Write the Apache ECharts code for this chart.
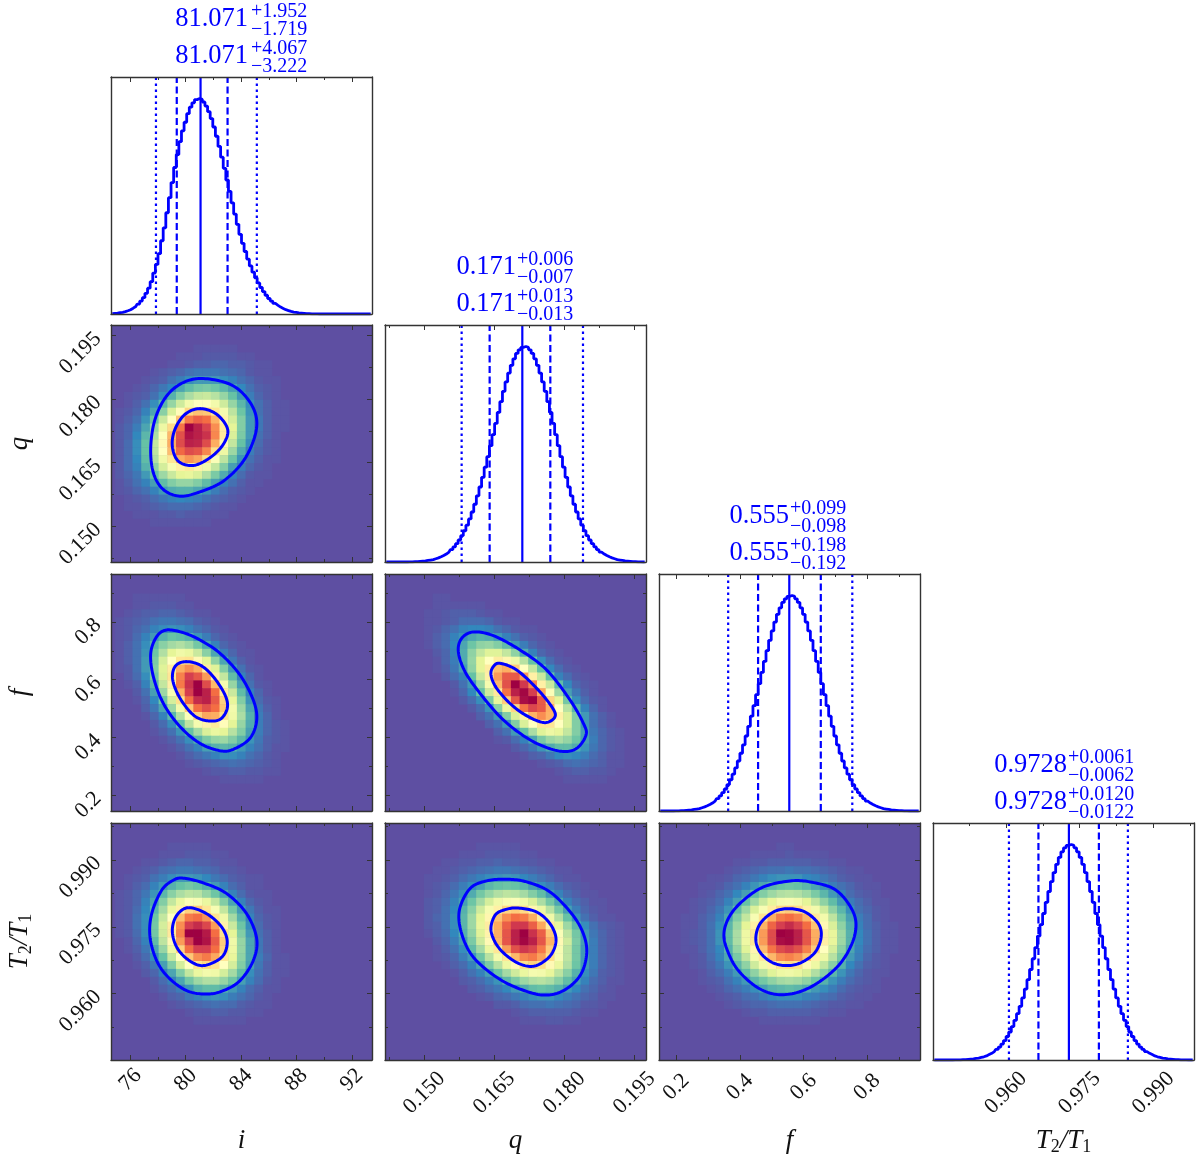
<!DOCTYPE html>
<html>
<head>
<meta charset="utf-8">
<style>
	html, body { margin: 0; padding: 0; background: #fff; }
	#main { width: 1200px; height: 1160px; }
</style>
<script src="https://cdn.jsdelivr.net/npm/echarts@6/dist/echarts.min.js"></script>
</head>
<body>
<div id="main"></div>
<script>
// axis ranges and ticks
let rangeI = [74.6, 93.46];
let rangeQ = [0.14158, 0.1975];
let rangeF = [0.1457, 0.9657];
let rangeT = [0.94515, 0.99825];
let ticksI = [76, 80, 84, 88, 92];
let minorI = [78, 82, 86, 90];
let ticksQ = [0.15, 0.165, 0.18, 0.195];
let minorQ = [0.1425, 0.1575, 0.1725, 0.1875];
let ticksF = [0.2, 0.4, 0.6, 0.8];
let minorF = [0.3, 0.5, 0.7, 0.9];
let ticksT = [0.96, 0.975, 0.99];
let minorT = [0.9525, 0.9675, 0.9825, 0.9975];

// median, -1s, +1s, -2s, +2s
let medianI = [81.071, 1.719, 1.952, 3.222, 4.067];
let medianQ = [0.171, 0.007, 0.006, 0.013, 0.013];
let medianF = [0.555, 0.098, 0.099, 0.192, 0.198];
let medianT = [0.9728, 0.0062, 0.0061, 0.0122, 0.012];

// histograms, 100 bins each, % of the peak
let histI = [0.2, 0.3, 0.4, 0.6, 0.8, 1.1, 1.5, 2, 2.7, 3.5, 4.6, 6, 7.6, 9.6, 12, 15, 19, 23, 28, 34, 40, 47, 54, 61, 68, 74, 80, 85, 89, 93, 96, 98, 99.5, 100, 99.6, 98.4, 96.5, 93.9, 90.7, 86.8, 82.5, 77.8, 72.8, 67.6, 62.2, 56.9, 51.6, 46.4, 41.6, 37, 32.8, 29, 25.5, 22.3, 19.4, 16.8, 14.4, 12.3, 10.4, 8.7, 7.2, 6, 4.9, 4, 3.2, 2.6, 2, 1.6, 1.2, 0.9, 0.7, 0.5, 0.4, 0.3, 0.2, 0.15, 0.1, 0.08, 0.05, 0, 0, 0, 0, 0, 0, 0, 0, 0, 0, 0, 0, 0, 0, 0, 0, 0, 0, 0, 0, 0];
let histQ = [0, 0, 0, 0, 0, 0, 0, 0, 0, 0.1, 0.1, 0.15, 0.2, 0.3, 0.4, 0.5, 0.7, 0.9, 1.1, 1.5, 1.9, 2.4, 3, 3.7, 4.6, 5.7, 7, 8.5, 10.2, 12.2, 14.5, 17.1, 20, 23.2, 26.8, 30.7, 34.8, 39.3, 44, 48.9, 54, 59.1, 64.3, 69.4, 74.4, 79.2, 83.6, 87.7, 91.3, 94.3, 96.8, 98.5, 99.6, 100, 99.6, 98.5, 96.8, 94.3, 91.3, 87.7, 83.6, 79.2, 74.4, 69.4, 64.3, 59.1, 54, 48.9, 44, 39.3, 34.8, 30.7, 26.8, 23.2, 20, 17.1, 14.5, 12.2, 10.2, 8.5, 7, 5.7, 4.6, 3.7, 3, 2.4, 1.9, 1.5, 1.1, 0.9, 0.7, 0.5, 0.4, 0.3, 0.2, 0.15, 0.1, 0.07, 0, 0];
let histF = [0, 0, 0, 0, 0, 0, 0.1, 0.1, 0.15, 0.2, 0.3, 0.4, 0.5, 0.7, 0.9, 1.1, 1.5, 1.9, 2.4, 3, 3.7, 4.6, 5.7, 7, 8.5, 10.2, 12.2, 14.5, 17.1, 20, 23.2, 26.8, 30.7, 34.8, 39.3, 44, 48.9, 54, 59.1, 64.3, 69.4, 74.4, 79.2, 83.6, 87.7, 91.3, 94.3, 96.8, 98.5, 99.6, 100, 99.6, 98.5, 96.8, 94.3, 91.3, 87.7, 83.6, 79.2, 74.4, 69.4, 64.3, 59.1, 54, 48.9, 44, 39.3, 34.8, 30.7, 26.8, 23.2, 20, 17.1, 14.5, 12.2, 10.2, 8.5, 7, 5.7, 4.6, 3.7, 3, 2.4, 1.9, 1.5, 1.1, 0.9, 0.7, 0.5, 0.4, 0.3, 0.2, 0.15, 0.1, 0.07, 0, 0, 0, 0, 0];
let histT = [0, 0, 0, 0, 0, 0, 0, 0, 0.05, 0.08, 0.1, 0.15, 0.2, 0.3, 0.4, 0.5, 0.7, 0.9, 1.2, 1.5, 1.9, 2.5, 3.1, 3.9, 4.9, 6, 7.4, 9, 10.9, 13, 15.5, 18.4, 21.5, 24.9, 28.8, 32.9, 37.3, 42, 47, 52.2, 57.5, 62.8, 68, 73.2, 78.2, 82.8, 87, 90.8, 94, 96.6, 98.5, 99.6, 100, 99.6, 98.5, 96.6, 94, 90.8, 87, 82.8, 78.2, 73.2, 68, 62.8, 57.5, 52.2, 47, 42, 37.3, 32.9, 28.8, 24.9, 21.5, 18.4, 15.5, 13, 10.9, 9, 7.4, 6, 4.9, 3.9, 3.1, 2.5, 1.9, 1.5, 1.2, 0.9, 0.7, 0.5, 0.4, 0.3, 0.2, 0.15, 0.1, 0.08, 0.05, 0, 0, 0];

// 2d density, % of the peak. First row is bin row 3, each row is [first column, values...]
let heatIQ = [
	[10, 1, 1, 1, 1, 1],
	[8, 1, 1, 1, 2, 2, 2, 2, 1, 1],
	[7, 1, 1, 2, 3, 3, 4, 4, 3, 3, 2, 1, 1],
	[5, 1, 2, 3, 4, 6, 7, 7, 7, 6, 5, 4, 2, 1, 1],
	[4, 1, 2, 3, 6, 8, 11, 13, 13, 13, 11, 9, 6, 4, 2, 1, 1],
	[3, 1, 2, 4, 7, 10, 15, 19, 22, 23, 21, 18, 14, 10, 6, 3, 2, 1],
	[2, 1, 2, 3, 6, 11, 17, 24, 30, 34, 35, 32, 27, 20, 13, 8, 4, 2, 1],
	[2, 1, 3, 6, 11, 18, 27, 36, 45, 50, 50, 45, 36, 27, 18, 11, 6, 3, 1, 1],
	[1, 1, 2, 4, 9, 15, 25, 38, 51, 62, 66, 65, 58, 46, 33, 21, 12, 6, 3, 1, 1],
	[1, 1, 3, 6, 12, 21, 35, 50, 66, 78, 83, 80, 69, 54, 37, 24, 13, 7, 3, 1, 1],
	[1, 2, 4, 8, 15, 27, 43, 61, 79, 100, 95, 89, 75, 57, 40, 24, 13, 7, 3, 1, 1],
	[1, 2, 4, 10, 18, 30, 49, 68, 86, 97, 95, 92, 76, 57, 38, 23, 13, 6, 3, 1],
	[1, 2, 5, 11, 20, 34, 52, 70, 87, 95, 94, 87, 70, 52, 34, 20, 11, 5, 2, 1],
	[1, 2, 5, 11, 20, 33, 50, 67, 81, 87, 85, 76, 60, 43, 28, 16, 8, 4, 2, 1],
	[1, 2, 5, 10, 19, 31, 44, 58, 70, 74, 71, 61, 48, 33, 21, 12, 6, 3, 1, 1],
	[1, 2, 5, 9, 17, 26, 37, 47, 55, 57, 54, 45, 34, 24, 14, 8, 4, 2, 1],
	[1, 2, 4, 7, 13, 20, 28, 35, 40, 41, 38, 31, 23, 16, 9, 5, 2, 1, 1],
	[1, 1, 3, 6, 9, 14, 19, 24, 27, 27, 24, 19, 14, 9, 6, 3, 1, 1],
	[1, 1, 2, 4, 6, 9, 13, 16, 17, 17, 15, 12, 8, 5, 3, 2, 1],
	[2, 1, 2, 3, 5, 7, 9, 10, 9, 8, 6, 4, 3, 2, 1],
	[2, 1, 1, 2, 3, 4, 5, 5, 5, 4, 3, 2, 1, 1],
	[3, 1, 1, 1, 2, 2, 3, 2, 2, 1, 1, 1],
	[5, 1, 1, 1, 1, 1, 1, 1],
];
let heatIF = [
	[3, 1, 1, 1, 1, 1, 1],
	[3, 1, 1, 2, 2, 2, 1, 1],
	[2, 1, 2, 3, 3, 4, 4, 3, 2, 1, 1],
	[1, 1, 2, 3, 4, 6, 7, 7, 6, 5, 3, 2, 1],
	[1, 1, 2, 4, 6, 9, 11, 12, 11, 9, 6, 4, 2, 1],
	[1, 1, 2, 5, 9, 13, 17, 20, 19, 17, 12, 8, 4, 2, 1],
	[1, 1, 3, 6, 11, 18, 25, 29, 31, 28, 22, 15, 9, 4, 2, 1],
	[1, 1, 3, 6, 12, 21, 31, 40, 44, 42, 35, 25, 15, 8, 4, 1, 1],
	[1, 1, 3, 6, 13, 23, 37, 50, 58, 59, 52, 40, 26, 15, 7, 3, 1],
	[1, 1, 2, 6, 13, 24, 39, 56, 70, 75, 70, 56, 39, 24, 13, 6, 2, 1],
	[2, 2, 5, 11, 22, 38, 58, 77, 90, 85, 73, 55, 34, 19, 9, 4, 1],
	[2, 1, 3, 9, 18, 34, 55, 78, 92, 100, 87, 68, 46, 27, 14, 6, 2, 1],
	[3, 2, 6, 14, 28, 47, 70, 90, 100, 95, 80, 57, 35, 19, 9, 4, 1],
	[3, 1, 4, 10, 21, 37, 60, 80, 93, 95, 84, 63, 41, 24, 12, 5, 2, 1],
	[4, 3, 7, 15, 28, 45, 65, 80, 86, 80, 65, 45, 28, 15, 7, 3, 1],
	[4, 1, 4, 9, 18, 31, 48, 63, 71, 70, 60, 44, 30, 17, 8, 4, 1],
	[5, 2, 5, 11, 20, 33, 46, 54, 57, 51, 40, 27, 16, 8, 4, 2, 1],
	[5, 1, 3, 6, 12, 20, 29, 38, 42, 40, 32, 24, 14, 8, 4, 2, 1],
	[6, 1, 3, 6, 11, 17, 23, 27, 28, 24, 18, 12, 7, 3, 2, 1],
	[7, 1, 3, 6, 9, 14, 17, 18, 17, 13, 9, 6, 3, 1, 1],
	[8, 1, 3, 5, 7, 9, 11, 11, 9, 6, 4, 2, 1],
	[9, 1, 2, 3, 4, 5, 6, 5, 4, 3, 2, 1],
	[11, 1, 2, 2, 3, 3, 2, 2, 1, 1],
	[13, 1, 1, 1, 1, 1],
];
let heatQF = [
	[6, 1, 1],
	[6, 1, 1, 1, 1, 1, 1],
	[5, 1, 1, 2, 3, 3, 3, 2, 1, 1],
	[5, 1, 1, 2, 3, 5, 5, 5, 4, 2, 1, 1],
	[5, 1, 2, 4, 6, 9, 10, 10, 9, 6, 4, 2, 1, 1],
	[5, 1, 3, 5, 9, 12, 15, 17, 16, 13, 9, 6, 3, 2, 1],
	[5, 1, 3, 5, 10, 15, 21, 26, 27, 24, 19, 13, 8, 4, 2, 1],
	[6, 2, 4, 9, 16, 26, 34, 39, 39, 34, 26, 16, 9, 4, 2, 1],
	[6, 1, 4, 8, 16, 27, 40, 50, 56, 53, 44, 32, 20, 11, 5, 2, 1],
	[6, 1, 3, 7, 14, 26, 40, 56, 67, 70, 64, 50, 34, 20, 10, 5, 2, 1],
	[7, 2, 5, 9, 20, 35, 55, 73, 84, 84, 73, 55, 35, 20, 9, 5, 2, 1],
	[8, 2, 6, 13, 27, 46, 68, 86, 100, 91, 76, 55, 35, 19, 10, 4, 2, 1],
	[8, 1, 4, 10, 20, 36, 57, 79, 95, 99, 90, 71, 48, 28, 14, 7, 3, 1],
	[9, 2, 5, 11, 23, 41, 64, 85, 98, 100, 84, 62, 40, 22, 11, 5, 2, 1],
	[10, 2, 5, 12, 25, 42, 62, 79, 88, 84, 70, 50, 32, 18, 9, 4, 1],
	[11, 3, 6, 13, 24, 38, 55, 69, 75, 69, 55, 38, 24, 13, 6, 3, 1],
	[12, 3, 6, 13, 24, 38, 50, 58, 58, 50, 38, 24, 13, 6, 3, 1],
	[13, 3, 6, 13, 20, 30, 39, 43, 41, 34, 24, 14, 7, 4, 2, 1],
	[13, 1, 2, 5, 9, 15, 23, 28, 30, 27, 21, 14, 8, 4, 2, 1],
	[15, 2, 4, 7, 12, 16, 19, 19, 16, 12, 7, 4, 2, 1],
	[16, 1, 3, 4, 7, 10, 11, 10, 8, 5, 3, 1, 1],
	[18, 1, 2, 3, 5, 6, 5, 4, 3, 1, 1],
	[20, 1, 2, 3, 3, 2, 2, 1],
	[21, 1, 1, 1, 1, 1],
];
let heatIT = [
	[7, 1, 1, 1, 1, 1],
	[6, 1, 1, 1, 2, 2, 2, 1, 1],
	[4, 1, 1, 2, 3, 4, 4, 3, 3, 2, 1, 1],
	[3, 1, 2, 3, 5, 6, 7, 7, 6, 5, 4, 2, 2, 1],
	[2, 1, 2, 3, 6, 8, 11, 13, 13, 12, 10, 7, 5, 3, 2, 1, 1],
	[2, 1, 3, 5, 9, 13, 17, 20, 22, 20, 17, 13, 9, 5, 3, 1, 1],
	[1, 1, 2, 4, 7, 12, 18, 25, 30, 33, 32, 27, 21, 15, 9, 5, 2, 1, 1],
	[1, 1, 2, 4, 9, 15, 24, 34, 42, 48, 47, 42, 34, 24, 15, 9, 4, 2, 1],
	[1, 1, 2, 5, 10, 18, 29, 42, 55, 63, 65, 58, 47, 34, 22, 13, 7, 3, 1, 1],
	[1, 1, 2, 6, 11, 21, 34, 50, 67, 78, 80, 74, 59, 44, 29, 17, 9, 4, 2, 1],
	[1, 1, 2, 6, 11, 22, 37, 56, 75, 90, 93, 88, 73, 54, 35, 21, 11, 5, 2, 1],
	[1, 1, 2, 5, 11, 22, 36, 57, 77, 100, 100, 96, 80, 60, 40, 24, 13, 6, 3, 1],
	[2, 1, 4, 9, 19, 33, 52, 73, 90, 100, 97, 84, 64, 44, 27, 15, 7, 3, 1],
	[2, 1, 3, 7, 15, 27, 43, 63, 80, 90, 90, 80, 63, 43, 27, 15, 7, 3, 1],
	[3, 2, 5, 11, 20, 34, 50, 65, 75, 78, 71, 58, 41, 26, 15, 8, 4, 1, 1],
	[3, 1, 3, 7, 14, 24, 37, 50, 59, 62, 59, 50, 37, 24, 14, 7, 3, 1, 1],
	[4, 2, 4, 9, 15, 24, 34, 42, 45, 44, 37, 29, 19, 11, 6, 3, 1, 1],
	[5, 2, 5, 9, 15, 22, 28, 31, 31, 27, 21, 14, 9, 5, 2, 1],
	[5, 1, 3, 5, 8, 12, 17, 19, 19, 17, 13, 9, 5, 3, 1, 1],
	[6, 1, 3, 4, 7, 9, 11, 12, 11, 8, 6, 4, 2, 1],
	[7, 1, 2, 3, 4, 5, 6, 5, 5, 3, 2, 1, 1],
	[9, 1, 2, 2, 3, 3, 2, 2, 1, 1],
	[10, 1, 1, 1, 1, 1, 1],
];
let heatQT = [
	[11, 1, 1, 1, 1, 1],
	[9, 1, 1, 1, 2, 2, 2, 2, 1, 1],
	[7, 1, 1, 2, 2, 3, 3, 4, 3, 3, 2, 2, 1, 1],
	[6, 1, 1, 2, 3, 4, 5, 6, 7, 7, 6, 5, 4, 3, 2, 1, 1],
	[5, 1, 1, 2, 3, 5, 7, 9, 11, 12, 13, 12, 10, 8, 6, 4, 2, 1, 1],
	[5, 1, 2, 3, 5, 8, 11, 14, 18, 20, 21, 20, 18, 14, 11, 8, 5, 3, 2, 1],
	[5, 1, 2, 4, 7, 11, 16, 22, 27, 31, 33, 32, 29, 24, 19, 13, 9, 5, 3, 1, 1],
	[5, 2, 3, 5, 9, 14, 21, 29, 37, 44, 47, 48, 44, 38, 30, 22, 15, 9, 5, 3, 1, 1],
	[5, 2, 3, 6, 10, 17, 25, 36, 46, 55, 62, 64, 61, 53, 43, 32, 22, 14, 8, 4, 2, 1],
	[5, 2, 4, 6, 11, 18, 28, 40, 53, 66, 75, 80, 78, 70, 57, 44, 31, 20, 12, 6, 3, 1, 1],
	[5, 2, 3, 6, 11, 18, 28, 41, 56, 71, 83, 91, 91, 83, 71, 56, 41, 28, 18, 11, 6, 3, 2, 1],
	[5, 1, 3, 5, 10, 17, 26, 39, 54, 70, 85, 95, 100, 92, 83, 65, 48, 33, 22, 13, 7, 4, 2, 1],
	[6, 2, 4, 8, 14, 23, 36, 52, 69, 85, 95, 99, 95, 85, 69, 52, 36, 23, 14, 8, 4, 2, 1],
	[6, 1, 3, 6, 11, 19, 29, 42, 58, 73, 86, 91, 88, 78, 64, 47, 33, 22, 13, 8, 4, 2, 1],
	[6, 1, 2, 4, 8, 13, 21, 32, 45, 58, 68, 76, 78, 72, 60, 47, 33, 22, 13, 8, 4, 2, 1],
	[7, 1, 3, 5, 9, 15, 23, 32, 43, 52, 60, 63, 60, 52, 42, 31, 21, 13, 8, 4, 2, 1],
	[8, 1, 3, 6, 9, 14, 21, 29, 36, 42, 46, 45, 41, 33, 25, 17, 11, 7, 3, 2, 1],
	[9, 2, 3, 5, 8, 12, 18, 23, 28, 31, 32, 30, 25, 19, 14, 9, 5, 3, 1, 1],
	[10, 2, 3, 5, 7, 10, 13, 16, 19, 20, 19, 17, 13, 10, 6, 4, 2, 1],
	[11, 1, 2, 4, 5, 7, 9, 11, 12, 12, 10, 8, 6, 4, 3, 1, 1],
	[13, 2, 2, 3, 5, 6, 6, 7, 6, 5, 4, 2, 2, 1],
	[15, 1, 2, 3, 3, 3, 3, 3, 2, 1, 1],
	[16, 1, 1, 1, 2, 2, 1, 1],
];
let heatFT = [
	[14, 1, 1],
	[11, 1, 1, 1, 1, 2, 1, 1, 1, 1],
	[9, 1, 1, 2, 2, 3, 3, 3, 3, 3, 2, 2, 1, 1],
	[8, 1, 2, 3, 4, 5, 6, 6, 7, 6, 6, 5, 4, 3, 2, 1, 1],
	[6, 1, 1, 2, 4, 5, 7, 9, 11, 12, 12, 12, 10, 9, 7, 5, 3, 2, 1, 1],
	[5, 1, 1, 2, 4, 6, 9, 12, 15, 18, 20, 21, 20, 18, 15, 12, 8, 6, 4, 2, 1, 1],
	[5, 1, 2, 4, 6, 10, 14, 19, 24, 28, 31, 32, 31, 28, 23, 18, 13, 9, 5, 3, 2, 1],
	[4, 1, 2, 3, 5, 9, 14, 20, 28, 35, 41, 46, 47, 45, 40, 33, 26, 19, 13, 8, 5, 3, 1, 1],
	[4, 1, 2, 4, 7, 12, 19, 28, 38, 47, 56, 62, 64, 61, 55, 45, 36, 26, 18, 11, 6, 4, 2, 1],
	[3, 1, 1, 3, 5, 9, 15, 24, 34, 47, 59, 70, 78, 80, 77, 69, 57, 45, 33, 22, 14, 8, 5, 2, 1],
	[3, 1, 1, 3, 6, 11, 18, 28, 40, 55, 69, 82, 90, 93, 89, 80, 66, 52, 38, 26, 16, 9, 5, 3, 1, 1],
	[3, 1, 2, 3, 6, 12, 19, 30, 43, 58, 73, 87, 100, 99, 95, 85, 70, 55, 41, 28, 17, 10, 6, 3, 1, 1],
	[3, 1, 2, 3, 6, 12, 19, 30, 43, 58, 73, 87, 98, 99, 95, 85, 70, 55, 41, 28, 17, 10, 6, 3, 1, 1],
	[3, 1, 1, 3, 6, 10, 17, 27, 39, 53, 67, 79, 87, 90, 86, 77, 64, 50, 37, 25, 15, 9, 5, 3, 1, 1],
	[4, 1, 2, 5, 9, 15, 23, 33, 45, 57, 68, 75, 77, 74, 66, 55, 43, 32, 22, 13, 8, 4, 2, 1],
	[4, 1, 2, 4, 7, 12, 18, 26, 36, 45, 54, 59, 61, 59, 52, 43, 34, 25, 17, 10, 6, 3, 2, 1],
	[5, 1, 3, 5, 8, 13, 19, 26, 33, 39, 43, 44, 42, 38, 31, 25, 18, 12, 7, 4, 2, 1, 1],
	[5, 1, 2, 3, 6, 9, 13, 18, 22, 26, 29, 30, 29, 26, 21, 17, 12, 8, 5, 3, 2, 1],
	[6, 1, 2, 4, 6, 8, 11, 14, 17, 18, 19, 18, 16, 13, 11, 8, 5, 3, 2, 1, 1],
	[7, 1, 2, 3, 5, 6, 8, 10, 11, 11, 11, 9, 8, 6, 5, 3, 2, 1, 1],
	[8, 1, 2, 3, 4, 4, 5, 6, 6, 6, 5, 4, 3, 2, 2, 1, 1],
	[10, 1, 2, 2, 3, 3, 3, 3, 3, 2, 2, 1, 1],
	[12, 1, 1, 1, 1, 1, 1, 1],
];

// contours in data units: 1 sigma and 2 sigma
let innerIQ = [[81.03, 0.17777], [82.24, 0.17643], [83.03, 0.17288], [82.71, 0.16933], [81.75, 0.16618], [80.55, 0.16436], [79.46, 0.16538], [79.03, 0.16893], [79.22, 0.17288], [79.95, 0.17643]];
let outerIQ = [[81.27, 0.18487], [83.2, 0.18352], [84.4, 0.18037], [85.08, 0.17603], [85.0, 0.1713], [84.16, 0.16538], [82.71, 0.16065], [81.03, 0.15813], [79.59, 0.15711], [78.38, 0.15868], [77.66, 0.16263], [77.47, 0.16855], [77.78, 0.17524], [78.62, 0.18076], [79.82, 0.18393]];
let innerIF = [[79.95, 0.6624], [81.03, 0.6509], [81.99, 0.6105], [82.84, 0.5471], [83.0, 0.501], [82.48, 0.4629], [81.51, 0.4583], [80.55, 0.4779], [79.59, 0.5356], [79.06, 0.599], [79.22, 0.6451]];
let outerIF = [[78.62, 0.772], [79.82, 0.7627], [81.03, 0.7374], [82.48, 0.6913], [83.92, 0.6163], [84.88, 0.5298], [85.13, 0.4606], [84.64, 0.3972], [83.44, 0.3592], [82.48, 0.3544], [81.03, 0.3798], [79.59, 0.4375], [78.38, 0.5183], [77.66, 0.6105], [77.47, 0.6913], [77.9, 0.7489]];
let innerQF = [[0.16622, 0.6567], [0.16979, 0.6336], [0.17408, 0.5701], [0.17729, 0.5067], [0.17801, 0.4721], [0.17587, 0.4514], [0.17229, 0.4721], [0.16872, 0.5125], [0.16551, 0.5701], [0.16429, 0.6163], [0.16479, 0.6451]];
let outerQF = [[0.16051, 0.7651], [0.16479, 0.7524], [0.17051, 0.7028], [0.17622, 0.6336], [0.18122, 0.5298], [0.18408, 0.449], [0.18465, 0.4087], [0.18265, 0.3625], [0.17944, 0.3521], [0.17479, 0.3741], [0.17051, 0.4144], [0.16622, 0.4721], [0.16194, 0.5529], [0.15872, 0.6278], [0.15729, 0.697], [0.15801, 0.7432]];
let innerIT = [[80.19, 0.97928], [81.51, 0.97793], [82.6, 0.97493], [83.0, 0.97155], [82.6, 0.96818], [81.27, 0.9663], [80.19, 0.96758], [79.35, 0.97043], [79.03, 0.97418], [79.35, 0.97755]];
let outerIT = [[79.82, 0.98588], [81.27, 0.98483], [82.96, 0.98243], [84.4, 0.97793], [85.13, 0.9723], [84.88, 0.96743], [83.92, 0.96293], [82.71, 0.96068], [81.51, 0.95993], [80.07, 0.96068], [78.74, 0.96368], [77.9, 0.96743], [77.42, 0.97268], [77.54, 0.97793], [78.26, 0.98318], [79.1, 0.98543]];
let innerQT = [[0.17015, 0.9792], [0.17408, 0.9783], [0.17694, 0.97568], [0.17822, 0.9723], [0.17729, 0.96893], [0.17479, 0.96668], [0.17229, 0.96615], [0.16907, 0.96743], [0.16586, 0.97043], [0.16429, 0.97418], [0.16515, 0.97755], [0.16729, 0.97883]];
let outerQT = [[0.16765, 0.98565], [0.17194, 0.98505], [0.17694, 0.9828], [0.18158, 0.97793], [0.18408, 0.97343], [0.18479, 0.96893], [0.18337, 0.96405], [0.17979, 0.96068], [0.17551, 0.9597], [0.17051, 0.96105], [0.16551, 0.96368], [0.16051, 0.96818], [0.15801, 0.97343], [0.15751, 0.97868], [0.15979, 0.98355], [0.16337, 0.98528]];
let innerFT = [[0.5523, 0.97906], [0.6048, 0.9783], [0.6466, 0.97568], [0.6551, 0.97267], [0.6363, 0.9693], [0.5944, 0.96705], [0.5473, 0.9663], [0.5001, 0.96705], [0.4633, 0.9693], [0.4498, 0.97231], [0.4633, 0.97568], [0.5051, 0.9783]];
let outerFT = [[0.5576, 0.98527], [0.6205, 0.98505], [0.6938, 0.98355], [0.741, 0.98018], [0.7643, 0.97605], [0.7517, 0.97118], [0.7045, 0.96592], [0.6205, 0.96142], [0.5366, 0.95978], [0.4633, 0.96105], [0.3951, 0.96518], [0.3586, 0.97006], [0.3501, 0.9738], [0.369, 0.97755], [0.4108, 0.98093], [0.4737, 0.98392]];

let titleLabels = ["81.071", "0.171", "0.555", "0.9728"];
let upperLabels = [["+1.952", "+4.067"], ["+0.006", "+0.013"], ["+0.099", "+0.198"], ["+0.0061", "+0.0120"]];
let lowerLabels = [["\u22121.719", "\u22123.222"], ["\u22120.007", "\u22120.013"], ["\u22120.098", "\u22120.192"], ["\u22120.0062", "\u22120.0122"]];

let spectral = ["#5e4fa2", "#3288bd", "#66c2a5", "#abdda4", "#e6f598", "#ffffbf", "#fee08b", "#fdae61", "#f46d43", "#d53e4f", "#9e0142"];
let blue = "#0000ff";
let ink = "#111";
let serif = "'Liberation Serif', 'Times New Roman', serif";

let colX = [111, 385, 659, 933];
let rowY = [77, 325, 574, 823];
let panelW = 261;
let panelH = 237;
let bins = 30;
let labelRow = 3;

let vars = [
	{ range: rangeI, ticks: ticksI, minor: minorI, decimals: 0, margin: 20, median: medianI, hist: histI, title: "{t|i}" },
	{ range: rangeQ, ticks: ticksQ, minor: minorQ, decimals: 3, margin: 33, median: medianQ, hist: histQ, title: "{t|q}" },
	{ range: rangeF, ticks: ticksF, minor: minorF, decimals: 1, margin: 27, median: medianF, hist: histF, title: "{t|f}" },
	{ range: rangeT, ticks: ticksT, minor: minorT, decimals: 3, margin: 33, median: medianT, hist: histT, title: "{t|T}{s|2}{t|/T}{s|1}" },
];
let pairs = [
	{ col: 0, row: 1, heat: heatIQ, inner: innerIQ, outer: outerIQ },
	{ col: 0, row: 2, heat: heatIF, inner: innerIF, outer: outerIF },
	{ col: 1, row: 2, heat: heatQF, inner: innerQF, outer: outerQF },
	{ col: 0, row: 3, heat: heatIT, inner: innerIT, outer: outerIT },
	{ col: 1, row: 3, heat: heatQT, inner: innerQT, outer: outerQT },
	{ col: 2, row: 3, heat: heatFT, inner: innerFT, outer: outerFT },
];

let nameStyle = {
	color: ink,
	rich: {
		t: { fontFamily: serif, fontStyle: "italic", fontSize: 27, color: ink, lineHeight: 30 },
		s: { fontFamily: serif, fontSize: 18, color: ink, lineHeight: 18, verticalAlign: "bottom", padding: [12, 0, 0, 0] },
	},
};

let grids = [];
let xAxes = [];
let yAxes = [];
let series = [];
let heatIndex = [];
let graphics = [];

let addAxis = function (list, gridIndex, position, range, values, length, extra) {
	list.push(
		Object.assign(
			{
				type: "value",
				gridIndex: gridIndex,
				position: position,
				min: range[0],
				max: range[1],
				z: 10,
				splitLine: { show: false },
				axisLine: { show: false, onZero: false },
				axisTick: {
					show: length > 0,
					inside: true,
					length: length,
					customValues: values,
					lineStyle: { color: "#333", width: 1 },
				},
				axisLabel: { show: false },
			},
			extra
		)
	);
	return list.length - 1;
};

let frameLine = { show: true, onZero: false, lineStyle: { color: "#333", width: 1.4 } };

let tickLabel = function (v, rotate, margin, align) {
	return {
		show: true,
		customValues: v.ticks,
		rotate: rotate,
		margin: margin,
		align: align,
		verticalAlign: "middle",
		color: ink,
		fontFamily: serif,
		fontSize: 22,
		formatter: (d) => d.toFixed(v.decimals),
	};
};

// four sides of a panel, ticks on the top and bottom, and on the y sides if given
let addPanel = function (col, row, v, yRange, yVar) {
	let gridIndex = grids.length;
	grids.push({
		left: colX[col],
		top: rowY[row],
		width: panelW,
		height: panelH,
		show: true,
		borderWidth: 0,
		backgroundColor: yVar ? spectral[0] : "#fff",
	});
	let bottom = { axisLine: frameLine };
	if (row === labelRow) {
		bottom.axisLabel = tickLabel(v, 45, v.margin, "center");
		bottom.name = v.title;
		bottom.nameLocation = "middle";
		bottom.nameGap = 66;
		bottom.nameTextStyle = nameStyle;
	}
	let x = addAxis(xAxes, gridIndex, "bottom", v.range, v.ticks, yVar ? 5 : 0, bottom);
	if (yVar) {
		addAxis(xAxes, gridIndex, "bottom", v.range, v.minor, 3, {});
	}
	addAxis(xAxes, gridIndex, "top", v.range, v.ticks, 5, { axisLine: frameLine });
	addAxis(xAxes, gridIndex, "top", v.range, v.minor, 3, {});

	let left = { axisLine: frameLine };
	if (yVar && col === 0) {
		left.axisLabel = tickLabel(yVar, 45, 13, "right");
		left.name = yVar.title;
		left.nameLocation = "middle";
		left.nameGap = 76;
		left.nameTextStyle = nameStyle;
	}
	let y = addAxis(yAxes, gridIndex, "left", yRange, yVar ? yVar.ticks : [], yVar ? 5 : 0, left);
	addAxis(yAxes, gridIndex, "right", yRange, yVar ? yVar.ticks : [], yVar ? 5 : 0, { axisLine: frameLine });
	if (yVar) {
		addAxis(yAxes, gridIndex, "left", yRange, yVar.minor, 3, {});
		addAxis(yAxes, gridIndex, "right", yRange, yVar.minor, 3, {});
	}
	return { x: x, y: y };
};

let addLine = function (axes, data, style, z) {
	series.push({
		type: "line",
		xAxisIndex: axes.x,
		yAxisIndex: axes.y,
		data: data,
		symbol: "none",
		silent: true,
		z: z,
		lineStyle: Object.assign({ color: blue, width: 2.2 }, style),
	});
	return series[series.length - 1];
};

// closed curve through the contour points, the line series clamps its bends at the extremes
let closedCurve = function (points) {
	let out = [];
	let n = points.length;
	for (let k = 0; k < n; k++) {
		let p0 = points[(k + n - 1) % n];
		let p1 = points[k];
		let p2 = points[(k + 1) % n];
		let p3 = points[(k + 2) % n];
		for (let s = 0; s < 12; s++) {
			let t = s / 12;
			let t2 = t * t;
			let t3 = t2 * t;
			out.push([
				0.5 * (2 * p1[0] + (p2[0] - p0[0]) * t + (2 * p0[0] - 5 * p1[0] + 4 * p2[0] - p3[0]) * t2 + (3 * p1[0] - p0[0] - 3 * p2[0] + p3[0]) * t3),
				0.5 * (2 * p1[1] + (p2[1] - p0[1]) * t + (2 * p0[1] - 5 * p1[1] + 4 * p2[1] - p3[1]) * t2 + (3 * p1[1] - p0[1] - 3 * p2[1] + p3[1]) * t3),
			]);
		}
	}
	out.push(out[0]);
	return out;
};

let addContour = function (axes, data) {
	series.push({
		type: "custom",
		coordinateSystem: "cartesian2d",
		xAxisIndex: axes.x,
		yAxisIndex: axes.y,
		data: data,
		encode: { x: 0, y: 1 },
		silent: true,
		z: 5,
		renderItem: function (params, api) {
			if (params.dataIndex !== 0) {
				return null;
			}
			return {
				type: "polyline",
				shape: { points: closedCurve(data.map((d) => api.coord(d))) },
				style: { stroke: blue, fill: "none", lineWidth: 3, lineJoin: "round" },
			};
		},
	});
};

// diagonal: histogram, median and the two intervals
let histTop = 110;
vars.forEach((v, i) => {
	let axes = addPanel(i, i, v, [0, histTop], null);
	let step = (v.range[1] - v.range[0]) / v.hist.length;
	let data = v.hist.map((h, k) => [v.range[0] + (k + 0.5) * step, h]);
	addLine(axes, data, { width: 2.8 }, 4).step = "middle";

	let m = v.median;
	let marks = [
		[m[0], "solid"],
		[m[0] - m[1], [7, 3.5]],
		[m[0] + m[2], [7, 3.5]],
		[m[0] - m[3], [2.5, 3.5]],
		[m[0] + m[4], [2.5, 3.5]],
	];
	marks.forEach((mark) => {
		addLine(axes, [[mark[0], 0], [mark[0], histTop]], { type: mark[1] }, 3);
	});
});

// off-diagonal: density bins on their own category grid, half a bin up and to the left
pairs.forEach((p) => {
	let v = vars[p.col];
	let w = vars[p.row];
	let axes = addPanel(p.col, p.row, v, w.range, w);

	let gridIndex = grids.length;
	grids.push({
		left: colX[p.col] - panelW / bins / 2,
		top: rowY[p.row] - panelH / bins / 2,
		width: panelW,
		height: panelH,
		show: false,
	});
	let cats = [];
	for (let n = 0; n < bins; n++) {
		cats.push(n);
	}
	xAxes.push({ type: "category", gridIndex: gridIndex, data: cats, show: false });
	yAxes.push({ type: "category", gridIndex: gridIndex, data: cats, show: false, inverse: true });

	let cells = [];
	p.heat.forEach((line, r) => {
		line.slice(1).forEach((value, k) => {
			cells.push([line[0] + k, r + 3, value]);
		});
	});
	heatIndex.push(series.length);
	series.push({
		type: "heatmap",
		xAxisIndex: xAxes.length - 1,
		yAxisIndex: yAxes.length - 1,
		data: cells,
		silent: true,
		z: 2,
	});

	addContour(axes, p.inner);
	addContour(axes, p.outer);
});

// the two value lines over each histogram
let mainEndX = [248, 516, 789, 1067];
let supStartX = [251, 517, 790, 1068];
vars.forEach((v, i) => {
	let top = rowY[i];
	[0, 1].forEach((k) => {
		let shift = k * 37;
		graphics.push({
			type: "text",
			x: mainEndX[i],
			y: top - 57.5 + shift,
			style: { text: titleLabels[i], fill: blue, font: "26.5px " + serif, align: "right", verticalAlign: "middle" },
		});
		graphics.push({
			type: "text",
			x: supStartX[i],
			y: top - 65 + shift,
			style: { text: upperLabels[i][k], fill: blue, font: "20px " + serif, align: "left", verticalAlign: "middle" },
		});
		graphics.push({
			type: "text",
			x: supStartX[i],
			y: top - 47 + shift,
			style: { text: lowerLabels[i][k], fill: blue, font: "20px " + serif, align: "left", verticalAlign: "middle" },
		});
	});
});

let myChart = echarts.init(document.getElementById("main"), null, { renderer: "canvas" });
myChart.setOption({
	animation: false,
	backgroundColor: "#fff",
	grid: grids,
	xAxis: xAxes,
	yAxis: yAxes,
	visualMap: {
		show: false,
		type: "continuous",
		min: 0,
		max: 100,
		dimension: 2,
		seriesIndex: heatIndex,
		inRange: { color: spectral },
	},
	graphic: graphics,
	series: series,
});
</script>
</body>
</html>
